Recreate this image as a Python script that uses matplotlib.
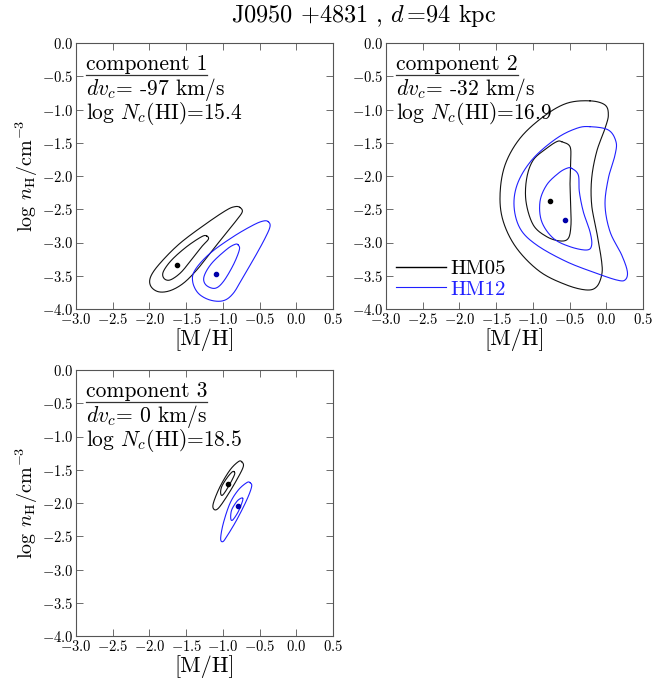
import numpy as np
import matplotlib
matplotlib.use("Agg")
import matplotlib.pyplot as plt
from matplotlib.lines import Line2D
from matplotlib.ticker import FuncFormatter

plt.rcParams["font.family"] = "serif"
plt.rcParams["font.serif"] = ["cmr10"]
plt.rcParams["mathtext.fontset"] = "cm"
plt.rcParams["axes.formatter.use_mathtext"] = True

# component info
comp_names = ["component 1", "component 2", "component 3"]
comp_dv = [-97, -32, 0]
comp_logN = [15.4, 16.9, 18.5]

# best-fit points ([M/H], log nH)
hm05_best = [(-1.62, -3.34), (-0.77, -2.38), (-0.93, -1.72)]
hm12_best = [(-1.09, -3.48), (-0.56, -2.66), (-0.80, -2.04)]

# contour outlines, (x, y) lists
c1_hm05_outer_x = [-0.77, -0.735, -0.812, -0.994, -1.175, -1.356, -1.539, -1.72, -1.879, -1.983, -1.983, -1.856, -1.584, -1.22, -0.948, -0.835]
c1_hm05_outer_y = [-2.471, -2.536, -2.662, -2.912, -3.163, -3.414, -3.614, -3.725, -3.74, -3.654, -3.514, -3.313, -3.012, -2.711, -2.511, -2.461]
c1_hm05_inner_x = [-1.22, -1.198, -1.288, -1.447, -1.584, -1.72, -1.802, -1.811, -1.697, -1.493, -1.288]
c1_hm05_inner_y = [-2.902, -2.952, -3.063, -3.288, -3.464, -3.564, -3.539, -3.439, -3.263, -3.063, -2.912]
c1_hm12_outer_x = [-0.381, -0.358, -0.426, -0.562, -0.722, -0.858, -0.994, -1.175, -1.334, -1.411, -1.379, -1.175, -0.858, -0.585, -0.449]
c1_hm12_outer_y = [-2.687, -2.762, -2.937, -3.213, -3.514, -3.764, -3.875, -3.865, -3.764, -3.589, -3.414, -3.163, -2.912, -2.737, -2.677]
c1_hm12_inner_x = [-0.79, -0.776, -0.858, -0.994, -1.107, -1.23, -1.257, -1.152, -0.948, -0.835]
c1_hm12_inner_y = [-3.038, -3.113, -3.338, -3.589, -3.689, -3.639, -3.514, -3.313, -3.103, -3.028]

c2_hm05_outer_x = [-0.222, -0.017, 0.028, -0.017, -0.131, -0.199, -0.199, -0.131, -0.063, -0.063, -0.131, -0.267, -0.54, -0.903, -1.22, -1.402, -1.447, -1.379, -1.175, -0.858, -0.54]
c2_hm05_outer_y = [-0.87, -0.932, -1.083, -1.283, -1.634, -2.035, -2.436, -2.838, -3.289, -3.489, -3.665, -3.714, -3.639, -3.439, -3.087, -2.687, -2.286, -1.835, -1.433, -1.108, -0.907]
c2_hm05_inner_x = [-0.607, -0.494, -0.485, -0.494, -0.485, -0.481, -0.517, -0.63, -0.812, -0.994, -1.093, -1.084, -0.994, -0.812, -0.676]
c2_hm05_inner_y = [-1.484, -1.559, -1.784, -2.085, -2.436, -2.737, -2.937, -2.977, -2.912, -2.737, -2.386, -2.035, -1.759, -1.584, -1.484]
c2_hm12_outer_x = [-0.222, 0.028, 0.132, 0.119, 0.028, -0.017, 0.051, 0.21, 0.287, 0.255, 0.142, -0.131, -0.54, -0.948, -1.175, -1.257, -1.198, -0.994, -0.676, -0.403]
c2_hm12_outer_y = [-1.258, -1.308, -1.484, -1.684, -2.035, -2.436, -2.838, -3.188, -3.439, -3.564, -3.564, -3.464, -3.289, -3.038, -2.787, -2.436, -2.085, -1.734, -1.433, -1.283]
c2_hm12_inner_x = [-0.471, -0.381, -0.367, -0.313, -0.222, -0.199, -0.267, -0.494, -0.721, -0.879, -0.903, -0.812, -0.654, -0.54]
c2_hm12_inner_y = [-1.885, -1.985, -2.236, -2.537, -2.838, -3.038, -3.113, -3.063, -2.937, -2.687, -2.386, -2.135, -1.96, -1.885]

c3_hm05_outer_x = [-0.744, -0.722, -0.812, -0.948, -1.062, -1.121, -1.13, -1.039, -0.903, -0.79]
c3_hm05_outer_y = [-1.379, -1.454, -1.654, -1.905, -2.08, -2.095, -2.005, -1.755, -1.504, -1.379]
c3_hm05_inner_x = [-0.848, -0.843, -0.925, -1.002, -1.03, -1.016, -0.948, -0.88]
c3_hm05_inner_y = [-1.529, -1.579, -1.755, -1.88, -1.855, -1.755, -1.629, -1.539]
c3_hm12_outer_x = [-0.63, -0.608, -0.675, -0.812, -0.948, -1.002, -1.03, -0.994, -0.903, -0.79, -0.675]
c3_hm12_outer_y = [-1.694, -1.754, -1.955, -2.256, -2.506, -2.582, -2.531, -2.306, -2.005, -1.805, -1.694]
c3_hm12_inner_x = [-0.73, -0.735, -0.79, -0.866, -0.893, -0.88, -0.812, -0.757]
c3_hm12_inner_y = [-1.93, -1.98, -2.13, -2.256, -2.23, -2.105, -1.98, -1.93]

contours = [
    [(c1_hm05_outer_x, c1_hm05_outer_y), (c1_hm05_inner_x, c1_hm05_inner_y),
     (c1_hm12_outer_x, c1_hm12_outer_y), (c1_hm12_inner_x, c1_hm12_inner_y)],
    [(c2_hm05_outer_x, c2_hm05_outer_y), (c2_hm05_inner_x, c2_hm05_inner_y),
     (c2_hm12_outer_x, c2_hm12_outer_y), (c2_hm12_inner_x, c2_hm12_inner_y)],
    [(c3_hm05_outer_x, c3_hm05_outer_y), (c3_hm05_inner_x, c3_hm05_inner_y),
     (c3_hm12_outer_x, c3_hm12_outer_y), (c3_hm12_inner_x, c3_hm12_inner_y)],
]
colors = ["#111111", "#111111", "#2020ff", "#2020ff"]


def closed_smooth(x, y, n=300):
    # periodic Catmull-Rom through the traced points
    p = np.column_stack([x, y])
    m = len(p)
    out = []
    for i in range(m):
        p0, p1, p2, p3 = p[i - 1], p[i], p[(i + 1) % m], p[(i + 2) % m]
        for t in np.linspace(0, 1, n // m, endpoint=False):
            t2, t3 = t * t, t * t * t
            out.append(0.5 * (2 * p1 + (-p0 + p2) * t + (2 * p0 - 5 * p1 + 4 * p2 - p3) * t2
                              + (-p0 + 3 * p1 - 3 * p2 + p3) * t3))
    out.append(out[0])
    out = np.array(out)
    return out[:, 0], out[:, 1]


tick_fmt = FuncFormatter(lambda v, pos: f"${v:.1f}$")

fig = plt.figure(figsize=(6.57, 6.84), dpi=100)
W, H = 657, 684
boxes = [(76, 43), (386, 43), (76, 370)]
aw, ah = 257, 266
name_texts = []
fs = 15.5

for k, (left, top) in enumerate(boxes):
    ax = fig.add_axes([left / W, 1 - (top + ah) / H, aw / W, ah / H])
    for (cx, cy), col in zip(contours[k], colors):
        sx, sy = closed_smooth(cx, cy)
        ax.plot(sx, sy, color=col, lw=0.8)
    ax.plot(*hm05_best[k], "o", color="black", ms=3)
    ax.plot(*hm12_best[k], "o", color="#0000aa", ms=3)
    ax.set_xlim(-3.0, 0.5)
    ax.set_ylim(-4.0, 0.0)
    ax.set_xticks(np.arange(-3.0, 0.51, 0.5))
    ax.set_yticks(np.arange(-4.0, 0.01, 0.5))
    ax.xaxis.set_major_formatter(tick_fmt)
    ax.yaxis.set_major_formatter(tick_fmt)
    ax.tick_params(direction="in", top=True, right=True, length=5, width=0.6,
                   color="#555555", labelsize=10.5, pad=2)
    for s in ax.spines.values():
        s.set_color("#555555")
        s.set_linewidth(0.8)
    ax.set_xlabel("[M/H]", fontsize=16, labelpad=1)
    if k != 1:
        ax.set_ylabel(r"log $n_{\rm H}$/cm$^{-3}$", fontsize=14.5, labelpad=1)
    t0 = ax.text(0.039, 0.898, comp_names[k], transform=ax.transAxes,
                 va="baseline", ha="left", fontsize=fs)
    name_texts.append(t0)
    ax.text(0.039, 0.805, r"$dv_c$= " + f"{comp_dv[k]}" + " km/s",
            transform=ax.transAxes, va="baseline", ha="left", fontsize=fs)
    ax.text(0.039, 0.713, r"log $N_c$(HI)=" + f"{comp_logN[k]}",
            transform=ax.transAxes, va="baseline", ha="left", fontsize=fs)
    if k == 1:
        h1, = ax.plot([], [], color="black", lw=1.0, label="HM05")
        h2, = ax.plot([], [], color="#2020ff", lw=0.8, label="HM12")
        leg = ax.legend(handles=[h1, h2], loc="lower left", frameon=False,
                        fontsize=15, handlelength=2.4, handletextpad=0.2,
                        borderaxespad=0.2, borderpad=0.3, labelspacing=0.1)
        leg.get_texts()[1].set_color("#2020ff")

fig.text(0.554, 0.977, r"J0950 $+$4831 , $d\,$=94 kpc", ha="center", va="center", fontsize=17.5)

# underline the component names
fig.canvas.draw()
renderer = fig.canvas.get_renderer()
for t0 in name_texts:
    bb = t0.get_window_extent(renderer).transformed(fig.transFigure.inverted())
    fig.add_artist(Line2D([bb.x0, bb.x1], [bb.y0 - 0.5 / H, bb.y0 - 0.5 / H], color="#333333",
                          lw=0.9, transform=fig.transFigure))

fig.savefig("out.png", dpi=100)
